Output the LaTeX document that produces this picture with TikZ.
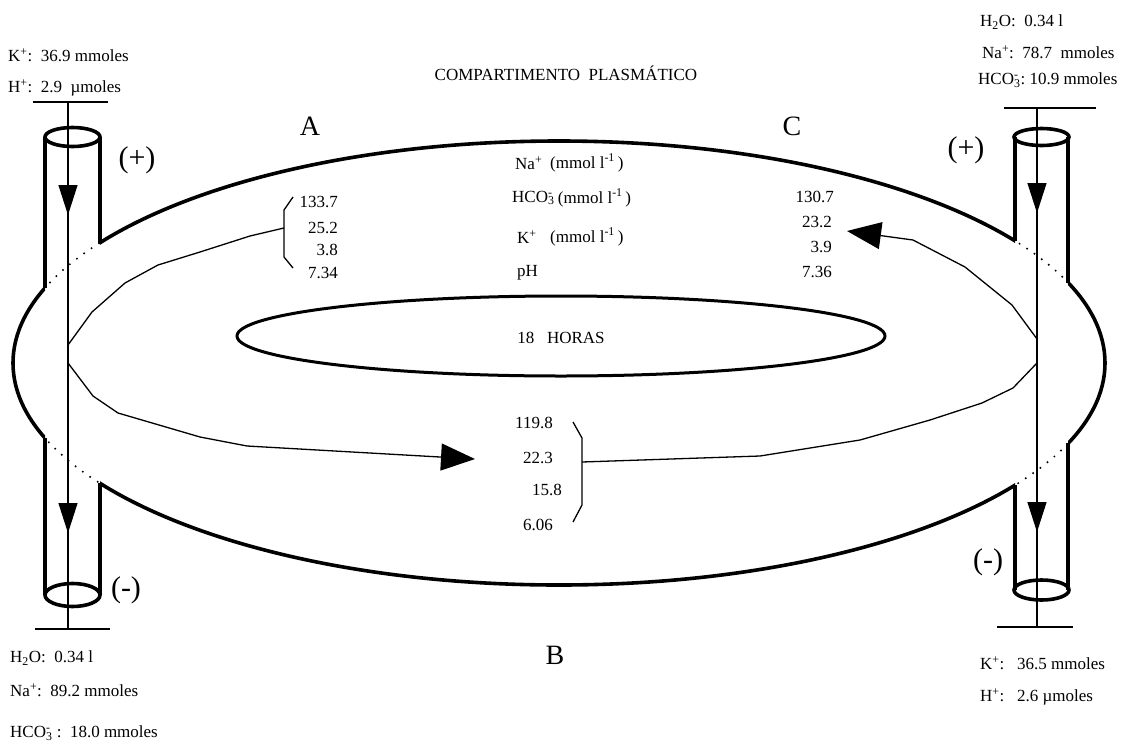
\documentclass[tikz,border=0pt]{standalone}
\usepackage{fontspec}
\setmainfont{Liberation Serif}
\usetikzlibrary{arrows.meta, calc, positioning}
\newcommand{\hcoion}{HCO\rlap{\textsuperscript{-}}\textsubscript{3}}
\newcommand{\unit}{(mmol l\textsuperscript{-1}\,)}

\begin{document}
\begin{tikzpicture}[
    x=1pt, y=-1pt,
    thick wall/.style={line width=3.6pt},
    thin line/.style={line width=1.3pt},
    dot ring/.style={line width=2.2pt, line cap=round, dash pattern=on 0pt off 9pt},
    tube tip/.style={-{Triangle[length=30pt,width=19pt]}},
    flow tip/.style={-{Triangle[length=34pt,width=27pt]}},
    lbl/.style={font=\fontsize{17}{20}\selectfont, inner sep=0pt, anchor=west},
    val/.style={font=\fontsize{17}{20}\selectfont, inner sep=0pt, anchor=east},
    letter/.style={font=\fontsize{28}{32}\selectfont, inner sep=0pt},
    sign/.style={font=\fontsize{30}{34}\selectfont, inner sep=0pt},
]
\useasboundingbox (0,0) rectangle (1136,745);

% plasma ring: solid outside the tubes, dotted inside them
\coordinate (ringc) at (559,363);
\begin{scope}
  \clip (0,0) rectangle (45,745) (100,0) rectangle (1015,745) (1068,0) rectangle (1136,745);
  \draw[thick wall] (ringc) ellipse [x radius=546pt, y radius=222pt];
\end{scope}
\begin{scope}
  \clip (45,0) rectangle (100,745) (1015,0) rectangle (1068,745);
  \draw[dot ring] (ringc) ellipse [x radius=546pt, y radius=222pt];
\end{scope}

% inner ellipse
\draw[line width=3pt] (561,336) ellipse [x radius=324pt, y radius=40pt];
\node[font=\fontsize{17}{20}\selectfont] (horas) at (561,338) {18\ \ \ HORAS};

% left tube (A -> B)
\draw[thick wall] (45,137) -- (45,288) (45,438) -- (45,595);
\draw[thick wall] (100,137) -- (100,243) (100,483) -- (100,595);
\draw[thick wall] (72.5,137) ellipse [x radius=27.5pt, y radius=9.5pt];
\draw[thick wall] (72.5,595) ellipse [x radius=27.5pt, y radius=11.5pt];
\coordinate (lt-top) at (68,102);
\coordinate (lt-bot) at (68,629);
\draw[thin line] (lt-top) -- (lt-bot);
\draw[thin line] (33,102) -- (108,102);
\draw[thin line] (35,629) -- (110,629);
\coordinate (lt-a1) at (68,183);
\coordinate (lt-a2) at (68,215);
\coordinate (lt-a3) at (68,501);
\coordinate (lt-a4) at (68,533);
\draw[thin line, tube tip] (lt-a1) -- (lt-a2);
\draw[thin line, tube tip] (lt-a3) -- (lt-a4);

% right tube (C)
\draw[thick wall] (1015,137) -- (1015,241) (1015,485) -- (1015,590);
\draw[thick wall] (1068,137) -- (1068,283) (1068,443) -- (1068,590);
\draw[thick wall] (1041.5,137) ellipse [x radius=27.5pt, y radius=8.5pt];
\draw[thick wall] (1041.5,590) ellipse [x radius=27.5pt, y radius=10pt];
\coordinate (rt-top) at (1037,108);
\coordinate (rt-bot) at (1037,627);
\draw[thin line] (rt-top) -- (rt-bot);
\draw[thin line] (1004,108) -- (1096,108);
\draw[thin line] (997,627) -- (1073,627);
\coordinate (rt-a1) at (1037,183);
\coordinate (rt-a2) at (1037,213);
\coordinate (rt-a3) at (1037,502);
\coordinate (rt-a4) at (1037,532);
\draw[thin line, tube tip] (rt-a1) -- (rt-a2);
\draw[thin line, tube tip] (rt-a3) -- (rt-a4);

% brackets round the values
\coordinate (brA) at (284,228);
\coordinate (brB) at (582,462);
\draw[thin line] (293,197) -- (284,210) -- (284,257) -- (293,268);
\draw[thin line] (573,422) -- (582,438) -- (582,505) -- (573,522);

% flows between compartments
\coordinate (lt-up) at (68,345);
\coordinate (lt-dn) at (68,363);
\coordinate (rt-up) at (1037,339);
\coordinate (rt-dn) at (1037,363);
\coordinate (arrB) at (475,459);
\coordinate (arrC) at (847,231);
\draw[thin line] (lt-up) -- (92,312) -- (125,283) -- (158,265) -- (200,252) -- (250,236) -- (brA);
\draw[thin line, flow tip] (lt-dn) -- (93,396) -- (118,413) -- (200,437) -- (247,446) -- (arrB);
\draw[thin line, flow tip] (rt-up) -- (1012,305) -- (965,267) -- (913,240) -- (arrC);
\draw[thin line] (rt-dn) -- (1013,388) -- (982,403) -- (930,420) -- (860,440) -- (760,456) -- (brB);

% header, compartments and signs
\node[font=\fontsize{17}{20}\selectfont] (title) at (566,73) {COMPARTIMENTO\ \ PLASMÁTICO};
\node[letter] (labA) at (310,126) {A};
\node[letter] (labC) at (792,126) {C};
\node[letter] (labB) at (555,655) {B};
\node[sign] (plusL) at (137,160) {(+)};
\node[sign] (plusR) at (966,150) {(+)};
\node[sign] (minusL) at (126,590) {(-)};
\node[sign] (minusR) at (988,562) {(-)};

% central column
\node[lbl] (naC) at (515,163) {Na\textsuperscript{+}};
\node[lbl] (hcoC) at (512,198) {\hcoion};
\node[lbl] (kC) at (517,237) {K\textsuperscript{+}};
\node[lbl] (phC) at (517,273) {pH};
\node[lbl] (naU) at (550,163) {\unit};
\node[lbl, right=3pt of hcoC] (hcoU) {\unit};
\node[lbl] (kU) at (550,237) {\unit};

% values in A
\node[val] (a1) at (338,202) {133.7};
\node[val] (a2) at (338,228) {25.2};
\node[val] (a3) at (338,250) {3.8};
\node[val] (a4) at (338,273) {7.34};
% values in C
\node[val] (c1) at (834,197) {130.7};
\node[val] (c2) at (832,222) {23.2};
\node[val] (c3) at (832,247) {3.9};
\node[val] (c4) at (832,272) {7.36};
% values in B
\node[val] (b1) at (553,423) {119.8};
\node[val] (b2) at (553,458) {22.3};
\node[val] (b3) at (562,490) {15.8};
\node[val] (b4) at (553,525) {6.06};

% amounts at the tube ends
\node[lbl] (kA) at (8,55) {K\textsuperscript{+}:\ \ 36.9 mmoles};
\node[lbl] (hA) at (8,88) {H\textsuperscript{+}:\ \ 2.9\ \ µmoles};
\node[lbl] (wC) at (980,22) {H\textsubscript{2}O:\ \ 0.34 l};
\node[lbl] (naCt) at (982,52) {Na\textsuperscript{+}:\ \ 78.7\ \ mmoles};
\node[lbl] (hcoCt) at (978,80) {\hcoion:\ 10.9 mmoles};
\node[lbl] (wB) at (10,658) {H\textsubscript{2}O:\ \ 0.34 l};
\node[lbl] (naB) at (10,690) {Na\textsuperscript{+}:\ \ 89.2 mmoles};
\node[lbl] (hcoB) at (10,733) {\hcoion\ :\ \ 18.0 mmoles};
\node[lbl] (kCb) at (980,663) {K\textsuperscript{+}:\ \ \ 36.5 mmoles};
\node[lbl] (hCb) at (980,697) {H\textsuperscript{+}:\ \ \ 2.6 µmoles};
\end{tikzpicture}
\end{document}
